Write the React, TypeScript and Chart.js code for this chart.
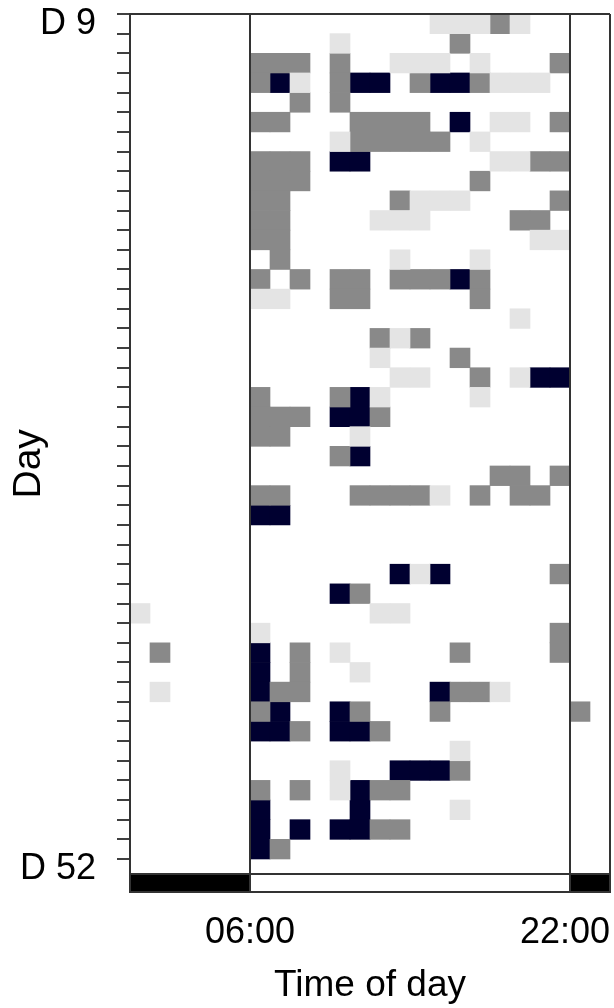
import { useEffect, useRef } from 'react';
import { Chart, registerables } from 'chart.js';

Chart.register(...registerables);

// Days shown on the y axis (one row per day)
const days = [
  9, 10, 11, 12, 13, 14, 15, 16, 17, 18, 19, 20, 21, 22, 23, 24, 25, 26, 27, 28, 29, 30,
  31, 32, 33, 34, 35, 36, 37, 38, 39, 40, 41, 42, 43, 44, 45, 46, 47, 48, 49, 50, 51, 52,
];

// Hours of the day (one column per hour)
const hours = [0, 1, 2, 3, 4, 5, 6, 7, 8, 9, 10, 11, 12, 13, 14, 15, 16, 17, 18, 19, 20, 21, 22, 23];

// Activity level per day and hour: '.' none, 'L' low, 'G' medium, 'D' high
const activity = [
  '...............LLLGL....', // D9
  '..........L.....G.......', // D10
  '......GGG.G..LLL.L...G..', // D11
  '......GDL.GDD.GDDGLLL...', // D12
  '........G.G.............', // D13
  '......GG...GGGG.D.LL.G..', // D14
  '..........LGGGGG.L......', // D15
  '......GGG.DD......LLGG..', // D16
  '......GGG........G......', // D17
  '......GG.....GLLL....G..', // D18
  '......GG....LLL....GG...', // D19
  '......GG............LL..', // D20
  '.......G.....L...L......', // D21
  '......G.G.GG.GGGDG......', // D22
  '......LL..GG.....G......', // D23
  '...................L....', // D24
  '............GLG.........', // D25
  '............L...G.......', // D26
  '.............LL..G.LDD..', // D27
  '......G...GDL....L......', // D28
  '......GGG.DDG...........', // D29
  '......GG...L............', // D30
  '..........GD............', // D31
  '..................GG.G..', // D32
  '......GG...GGGGL.G.GG...', // D33
  '......DD................', // D34
  '........................', // D35
  '........................', // D36
  '.............DLD.....G..', // D37
  '..........DG............', // D38
  'L...........LL..........', // D39
  '......L..............G..', // D40
  '.G....D.G.L.....G....G..', // D41
  '......D.G..L............', // D42
  '.L....DGG......DGGL.....', // D43
  '......GD..DG...G......G.', // D44
  '......DDG.DDG...........', // D45
  '................L.......', // D46
  '..........L..DDDG.......', // D47
  '......G.G.LDGG..........', // D48
  '......D....D....L.......', // D49
  '......D.D.DDGG..........', // D50
  '......DG................', // D51
  '........................', // D52
];

const levelCodes = ['L', 'G', 'D'];
const levelNames = ['Low', 'Medium', 'High'];
const levelColors = ['#e4e4e4', '#898989', '#000030'];

// Light/dark schedule bar under the plot
const nightHours = [0, 1, 2, 3, 4, 5, 22, 23];

// Axis ticks
const hourTicks = [0, 6, 22, 24];
const hourTickLabels = ['', '06:00', '22:00\u00a0', ''];
const labelledDays = [9, 52];
const dayTickLabels = ['D 9', 'D 52'];

// Axis ranges (schedule bar sits below the last day row)
const Y_MAX = 53.68;
const SCHEDULE_TOP = 52.77;

const FONT = "'Liberation Sans', Arial, Helvetica, sans-serif";

function cellsFor(code: string) {
  const out: { x: number; y: [number, number] }[] = [];
  activity.forEach((row, i) => {
    for (let h = 0; h < row.length; h++) {
      if (row[h] === code) out.push({ x: hours[h] + 0.5, y: [days[i], days[i] + 1] });
    }
  });
  return out;
}

export default function App() {
  const ref = useRef<HTMLCanvasElement>(null);

  useEffect(() => {
    const canvas = ref.current;
    if (!canvas) return;
    Chart.defaults.font.family = FONT;
    Chart.defaults.color = '#000';

    const datasets: any[] = levelCodes.map((code, k) => ({
      label: levelNames[k],
      data: cellsFor(code),
      backgroundColor: levelColors[k],
    }));
    datasets.push({
      label: 'Night',
      data: nightHours.map((h) => ({ x: h + 0.5, y: [SCHEDULE_TOP, Y_MAX] })),
      backgroundColor: '#000000',
    });

    const chart = new Chart(canvas, {
      type: 'bar',
      data: { datasets },
      options: {
        animation: false,
        responsive: false,
        devicePixelRatio: 1,
        layout: { padding: { top: 14, left: 0, right: 4, bottom: 0 } },
        plugins: { legend: { display: false }, tooltip: { enabled: false } },
        datasets: {
          bar: {
            grouped: false,
            categoryPercentage: 1,
            barPercentage: 1,
            borderWidth: 0,
          },
        },
        scales: {
          x: {
            type: 'linear',
            position: 'bottom',
            min: 0,
            max: 24,
            offset: false,
            afterBuildTicks: (s: any) => {
              s.ticks = hourTicks.map((v) => ({ value: v }));
            },
            afterFit: (s: any) => {
              s.height = 116;
              s.paddingLeft = 0;
              s.paddingRight = 0;
            },
            ticks: {
              autoSkip: false,
              maxRotation: 0,
              minRotation: 0,
              padding: 19,
              color: '#000',
              font: { size: 36, family: FONT },
              callback: (v: any) => {
                const i = hourTicks.indexOf(Number(v));
                return i >= 0 ? hourTickLabels[i] : '';
              },
            },
            grid: {
              display: true,
              offset: false,
              drawOnChartArea: true,
              drawTicks: false,
              color: '#333333',
              lineWidth: 2,
              z: 1,
            },
            border: { display: true, color: '#333333', width: 2, z: 1 },
            title: {
              display: true,
              text: 'Time of day',
              color: '#000',
              font: { size: 37, family: FONT },
              padding: { top: 0, bottom: 0 },
            },
          },
          y: {
            type: 'linear',
            position: 'left',
            reverse: true,
            beginAtZero: false,
            min: 9,
            max: Y_MAX,
            afterBuildTicks: (s: any) => {
              s.ticks = [...days.map((v) => ({ value: v })), { value: SCHEDULE_TOP }];
            },
            afterFit: (s: any) => {
              s.width = 130;
              s.paddingTop = 0;
              s.paddingBottom = 0;
            },
            ticks: {
              autoSkip: false,
              padding: 21,
              labelOffset: 10.5,
              color: '#000',
              font: { size: 36, family: FONT },
              callback: (v: any) => {
                const i = labelledDays.indexOf(Number(v));
                return i >= 0 ? dayTickLabels[i] : '';
              },
            },
            grid: {
              display: true,
              drawOnChartArea: true,
              drawTicks: true,
              tickLength: 13,
              lineWidth: 2,
              tickWidth: 1.5,
              color: (c: any) =>
                c.tick && (c.tick.value === 9 || c.tick.value === SCHEDULE_TOP)
                  ? '#333333'
                  : 'rgba(0,0,0,0)',
              tickColor: (c: any) =>
                c.tick && c.tick.value <= 52 ? '#000000' : 'rgba(0,0,0,0)',
              z: 1,
            },
            border: { display: true, color: '#333333', width: 2, z: 1 },
            title: {
              display: true,
              text: 'Day\u00a0\u00a0',
              color: '#000',
              font: { size: 39, family: FONT },
              padding: { top: 6, bottom: 0 },
            },
          },
        },
      } as any,
    });

    return () => chart.destroy();
  }, []);

  return (
    <div
      style={{
        position: 'fixed',
        left: 0,
        top: 0,
        width: 614,
        height: 1008,
        background: '#ffffff',
      }}
    >
      <canvas ref={ref} width={614} height={1008} style={{ display: 'block' }} />
    </div>
  );
}
